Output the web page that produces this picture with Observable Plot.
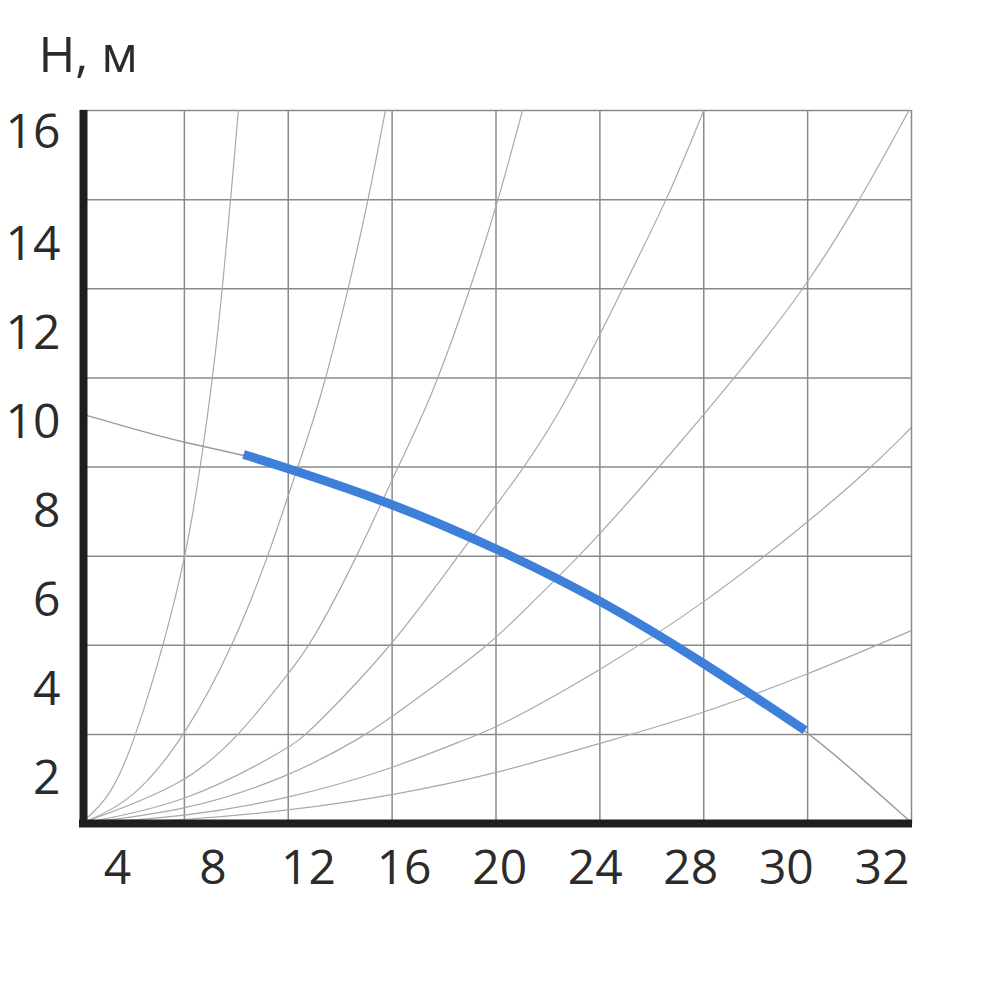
<!DOCTYPE html>
<html>
<head>
<meta charset="utf-8">
<script src="https://cdn.jsdelivr.net/npm/d3@7"></script>
<script src="https://cdn.jsdelivr.net/npm/@observablehq/plot@0.6"></script>
<style>
  html, body { margin: 0; padding: 0; background: #fff; }
  #chart svg { display: block; }
</style>
</head>
<body>
<div id="chart"></div>
<script>
// ---- Data (Q in grid units: vertical grid lines at 0,4,...,32; H in metres: 0..16) ----
const yTickLabels = ["2", "4", "6", "8", "10", "12", "14", "16"];
const xTickLabels = ["4", "8", "12", "16", "20", "24", "28", "30", "32"];
const gridQ = [4, 8, 12, 16, 20, 24, 28, 32];
const gridH = [2, 4, 6, 8, 10, 12, 14, 16];

// System characteristic curves
const curveA = [[0,0],[1.2,0.6],[2.16,2],[3.2,4],[4.08,6.06],[4.62,8],[5.08,9.94],[5.47,12],[5.78,14],[6.08,16]];
const curveB = [[0,0],[2,0.48],[4.08,2],[5.89,4],[7.24,6],[8.36,8],[9.24,9.49],[10.32,12],[11.09,14],[11.74,16]];
const curveC = [[0,0],[4.08,0.87],[6.16,2],[8.05,3.4],[8.86,4],[10.67,6],[12.21,8],[13.48,9.49],[15.02,12],[16.1,14],[17.02,16]];
const curveD = [[0,0],[4.08,0.45],[8.05,1.7],[8.74,2],[12.05,4],[14.52,6],[17.13,8],[18.75,9.49],[20.87,12],[22.6,14],[24.0,16]];
const curveE = [[0,0],[4.08,0.28],[8.05,1.04],[11.05,2],[12.05,2.42],[15.79,4],[17.44,5.0],[19.25,6],[22.3,8],[25.2,10],[27.9,12],[30.03,14],[31.9,16]];
const curveF = [[0,0],[4.08,0.15],[8.05,0.56],[12.05,1.23],[15.29,2],[16.05,2.15],[20.02,3.43],[24.03,4.94],[28.0,6.75],[30.46,7.99],[32,8.89]];
const curveG = [[0,0],[4.08,0.07],[8.05,0.29],[12.05,0.63],[16.05,1.12],[20.0,1.8],[24.0,2.47],[28.0,3.34],[32,4.33]];

// Pump curve (thin grey, full range) and working range (blue)
const pumpCurve = [[0,9.2],[2,8.86],[4.08,8.53],[6.28,8.28],[8.0,7.97],[12.05,7.18],[16.05,6.17],[20.0,5.03],[24.0,3.61],[28.0,2.09],[29.95,1.08],[32,0.02]];
const workRange = [[6.28,8.28],[8.0,7.97],[12.05,7.18],[16.05,6.17],[20.0,5.03],[24.0,3.61],[27.9,2.09]];

const systemCurves = [curveA, curveB, curveC, curveD, curveE, curveF, curveG];

// label placement: the picture puts the labels between grid lines
const yLabelData = yTickLabels.map(t => ({t, h: +t === 16 ? 15.5 : +t - 1}));
const xLabelData = xTickLabels.map((t, i) => ({t, q: 1.42 + i * 3.68}));

const FONT = "'Open Sans', 'Noto Sans', sans-serif";

const chart = Plot.plot({
  width: 1000,
  height: 1000,
  marginLeft: 80,
  marginRight: 89,
  marginTop: 110,
  marginBottom: 177,
  style: {fontFamily: FONT, background: "#fff"},
  x: {domain: [0, 32], axis: null},
  y: {domain: [0, 16], axis: null},
  marks: [
    Plot.ruleX(gridQ, {stroke: "#8a8a8a", strokeWidth: 1.5}),
    Plot.ruleY(gridH, {stroke: "#8a8a8a", strokeWidth: 1.5}),
    ...systemCurves.map(c => Plot.line(c, {stroke: "#a9a9a9", strokeWidth: 1.2, curve: "basis", clip: true})),
    Plot.line(pumpCurve, {stroke: "#9a9a9a", strokeWidth: 1.4, curve: "basis", clip: true}),
    Plot.line(workRange, {stroke: "#3d7fd9", strokeWidth: 9, curve: "basis", strokeLinecap: "butt"}),
    Plot.ruleX([0], {stroke: "#1e1e1e", strokeWidth: 8, dx: 3, insetBottom: -4}),
    Plot.ruleY([0], {stroke: "#1e1e1e", strokeWidth: 8, insetLeft: -1, insetRight: -1}),
    Plot.text(yLabelData, {y: "h", text: "t", frameAnchor: "left", textAnchor: "end", lineAnchor: "middle", dx: -20, fontSize: 48, fill: "#2b2b2b"}),
    Plot.text(xLabelData, {x: "q", text: "t", frameAnchor: "bottom", lineAnchor: "middle", dy: 45, fontSize: 48, fill: "#2b2b2b"}),
    Plot.text(["H, м"], {frameAnchor: "top-left", textAnchor: "start", lineAnchor: "middle", dx: -42, dy: -55, fontSize: 50, fill: "#2b2b2b"})
  ]
});
document.getElementById("chart").appendChild(chart);
</script>
</body>
</html>
